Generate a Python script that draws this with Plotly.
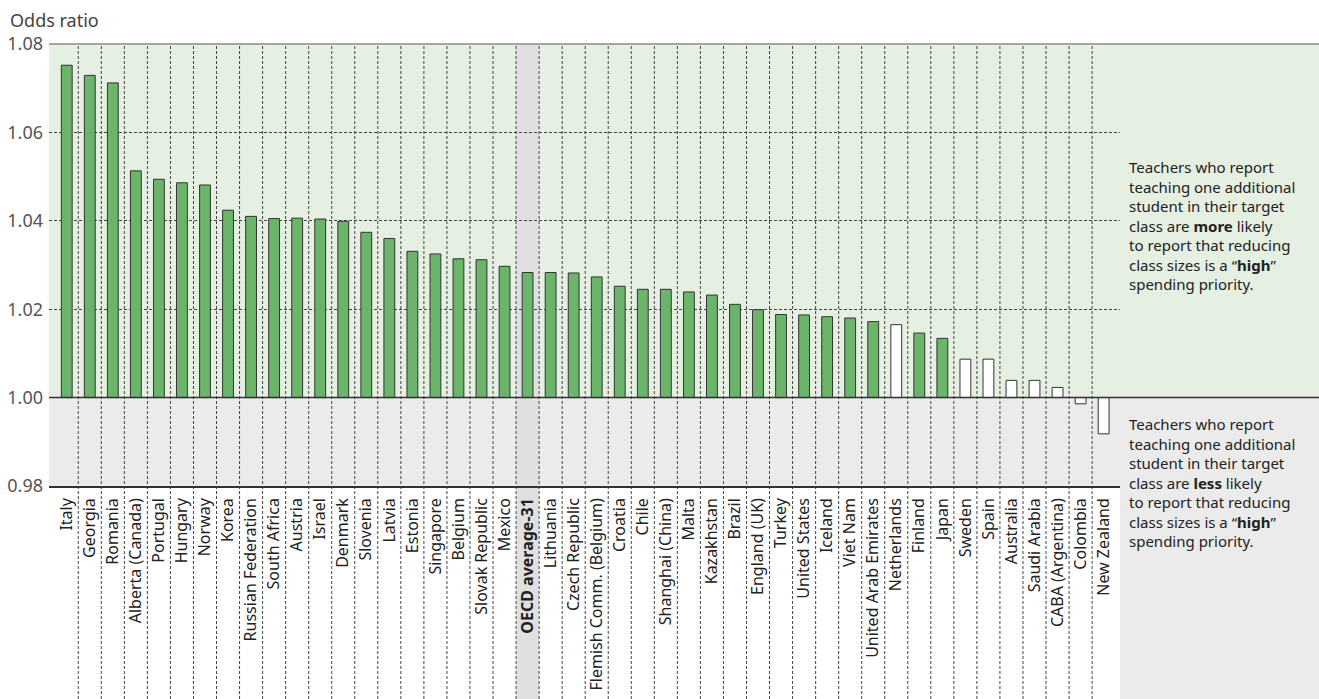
import plotly.graph_objects as go

categories = ["Italy", "Georgia", "Romania", "Alberta (Canada)", "Portugal", "Hungary", "Norway",
              "Korea", "Russian Federation", "South Africa", "Austria", "Israel", "Denmark",
              "Slovenia", "Latvia", "Estonia", "Singapore", "Belgium", "Slovak Republic", "Mexico",
              "OECD average-31", "Lithuania", "Czech Republic", "Flemish Comm. (Belgium)", "Croatia",
              "Chile", "Shanghai (China)", "Malta", "Kazakhstan", "Brazil", "England (UK)", "Turkey",
              "United States", "Iceland", "Viet Nam", "United Arab Emirates", "Netherlands", "Finland",
              "Japan", "Sweden", "Spain", "Australia", "Saudi Arabia", "CABA (Argentina)", "Colombia",
              "New Zealand"]

odds_ratio = [1.0752, 1.0729, 1.0712, 1.0513, 1.0494, 1.0486, 1.0481, 1.0424, 1.0410, 1.0405,
              1.0406, 1.0404, 1.0399, 1.0374, 1.0360, 1.0331, 1.0325, 1.0314, 1.0312, 1.0297,
              1.0283, 1.0283, 1.0282, 1.0273, 1.0252, 1.0245, 1.0245, 1.0239, 1.0232, 1.0211,
              1.0199, 1.0188, 1.0187, 1.0183, 1.0180, 1.0172, 1.0165, 1.0146, 1.0134, 1.0087,
              1.0087, 1.0039, 1.0039, 1.0023, 0.9986, 0.9918]

significant = [True] * 36 + [False, True, True] + [False] * 7

oecd_label = "OECD average-31"
y_ticks = [0.98, 1.00, 1.02, 1.04, 1.06, 1.08]
y_range = [0.98, 1.08]
x_range = [-0.77, 45.71]

GREEN = "#6bb56b"
GREEN_BG = "#e5efe2"
GREY_BG = "#ebebeb"
STRIPE = "#e0e0e0"

tick_text = [f"<b>{c}</b>" if c == oecd_label else c for c in categories]
baseline = 1.0

W, H = 1319, 699
ML, MR, MT, MB = 49, 199, 44, 213
plot_w = W - ML - MR
plot_h = H - MT - MB
right_edge = (W - ML) / plot_w          # paper x of the figure's right edge
bottom_edge = -MB / plot_h              # paper y of the figure's bottom edge


def ypaper(v):
    return (v - y_range[0]) / (y_range[1] - y_range[0])


fig = go.Figure()
fig.add_trace(go.Bar(
    x=categories,
    y=[v - baseline for v in odds_ratio],
    base=baseline,
    width=0.47,
    marker=dict(color=[GREEN if s else "white" for s in significant],
                line=dict(color="#333333", width=1)),
    hoverinfo="skip",
))

shapes = []
# backgrounds
shapes.append(dict(type="rect", xref="paper", yref="paper", x0=0, x1=right_edge,
                   y0=ypaper(baseline), y1=1, fillcolor=GREEN_BG, line_width=0, layer="below"))
shapes.append(dict(type="rect", xref="paper", yref="paper", x0=0, x1=right_edge,
                   y0=0, y1=ypaper(baseline), fillcolor=GREY_BG, line_width=0, layer="below"))
shapes.append(dict(type="rect", xref="paper", yref="paper", x0=1, x1=right_edge,
                   y0=bottom_edge, y1=ypaper(baseline), fillcolor=GREY_BG, line_width=0, layer="below"))
# OECD stripe
oi = categories.index(oecd_label)
shapes.append(dict(type="rect", xref="x", yref="paper", x0=oi - 0.5, x1=oi + 0.5,
                   y0=bottom_edge, y1=1, fillcolor=STRIPE, line_width=0, layer="below"))
# vertical separators
for i in range(len(categories) - 1):
    shapes.append(dict(type="line", xref="x", yref="paper", x0=i + 0.5, x1=i + 0.5,
                       y0=bottom_edge, y1=1, line=dict(color="#444444", width=1, dash="3px,2px"),
                       layer="below"))
# horizontal lines
shapes.append(dict(type="line", xref="paper", yref="paper", x0=0, x1=right_edge, y0=1, y1=1,
                   line=dict(color="#8a8a8a", width=1.5), layer="above"))
shapes.append(dict(type="line", xref="paper", yref="paper", x0=0, x1=right_edge,
                   y0=ypaper(baseline), y1=ypaper(baseline),
                   line=dict(color="#333333", width=1.5), layer="above"))

note_font = dict(family="Noto Sans", size=15, color="#222222")
annotations = [
    dict(text="Odds ratio", xref="paper", yref="paper", x=(8 - ML) / plot_w, y=1 + 24 / plot_h,
         xanchor="left", yanchor="middle", showarrow=False,
         font=dict(size=18, color="#444444")),
    dict(text="Teachers who report<br>teaching one additional<br>student in their target<br>"
              "class are <b>more</b> likely<br>to report that reducing<br>"
              "class sizes is a “<b>high</b>”<br>spending priority.",
         xref="paper", yref="paper", x=(1127 - ML) / plot_w, y=(H - MB - 155) / plot_h,
         xanchor="left", yanchor="top", align="left", showarrow=False, font=note_font),
    dict(text="Teachers who report<br>teaching one additional<br>student in their target<br>"
              "class are <b>less</b> likely<br>to report that reducing<br>"
              "class sizes is a “<b>high</b>”<br>spending priority.",
         xref="paper", yref="paper", x=(1127 - ML) / plot_w, y=(H - MB - 412) / plot_h,
         xanchor="left", yanchor="top", align="left", showarrow=False, font=note_font),
]

fig.update_layout(
    width=W, height=H,
    margin=dict(l=ML, r=MR, t=MT, b=MB, pad=0, autoexpand=False),
    paper_bgcolor="white", plot_bgcolor="rgba(0,0,0,0)",
    showlegend=False,
    font=dict(family="Noto Sans", size=15, color="#222222"),
    shapes=shapes,
    annotations=annotations,
)
fig.update_xaxes(
    type="category", range=x_range, tickmode="array", tickvals=categories, ticktext=tick_text,
    tickangle=-90, showgrid=False, ticks="", showline=True, linecolor="#333333", linewidth=1.5,
    tickfont=dict(size=16, color="#222222"), ticklabelstandoff=4, automargin=False,
)
fig.update_yaxes(
    range=y_range, tickvals=y_ticks, ticktext=[f"{v:.2f}" for v in y_ticks],
    showgrid=True, gridcolor="#444444", griddash="3px,2px", gridwidth=1,
    zeroline=False, showline=False, ticks="", tickfont=dict(size=18, color="#555555"),
    ticklabelstandoff=5, automargin=False,
)

fig.write_html("out.html", config={"displayModeBar": False},
               post_script="document.body.style.margin='0';")
